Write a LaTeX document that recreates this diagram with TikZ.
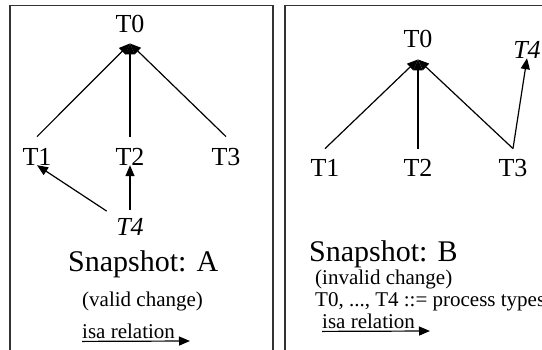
\documentclass[tikz,border=0pt]{standalone}
\usepackage{fontspec}
\setmainfont{Liberation Serif}
\usetikzlibrary{arrows.meta,calc,positioning}
\tikzset{
  ptype/.style={
    font=\fontsize{26}{30}\selectfont,
    inner sep=0pt, anchor=base
  },
  newtype/.style={ptype, font=\fontsize{26}{30}\selectfont\itshape},
  isa/.style={line width=1.2pt, -{Triangle[length=11pt,width=9pt]}},
  snaplabel/.style={font=\fontsize{30}{34}\selectfont, inner sep=0pt, anchor=base west},
  notelabel/.style={font=\fontsize{21}{25}\selectfont, inner sep=0pt, anchor=base west},
  keylabel/.style={notelabel, inner ysep=3pt},
  panel/.style={line width=1.6pt, draw=black!80}
}
\begin{document}
\begin{tikzpicture}[x=1pt, y=-1pt]
  \useasboundingbox (0,0) rectangle (542,349);

  % ==== SNAPSHOT A (left) ====
  \draw[panel] (10,352) -- (10,5.5) -- (273,5.5) -- (273,352);
  \node[ptype] (lT0) at (130,32)  {T0};
  \node[ptype] (lT1) at (37,165)  {T1};
  \node[ptype] (lT2) at (130,165) {T2};
  \node[ptype] (lT3) at (226,165) {T3};
  \node[newtype] (lT4) at (130,235) {T4};
  \draw[isa] ([yshift=11pt]lT1.north) -- ([yshift=-11pt]lT0.south);
  \draw[isa] ([yshift=11pt]lT2.north) -- ([yshift=-11pt]lT0.south);
  \draw[isa] ([yshift=11pt]lT3.north) -- ([yshift=-11pt]lT0.south);
  \draw[isa, shorten <=12pt] (lT4) -- (lT1.south);
  \draw[isa] ([yshift=8pt]lT4.north) -- (lT2.south);
  \node[snaplabel] (snapA) at (68,271) {Snapshot: A};
  \node[notelabel] (noteA) at (82,306) {(valid change)};
  \node[keylabel] (keyA) at (82,338) {isa relation};
  \coordinate (keyAend) at (190,341);
  \draw[isa] (keyA.south west) -- (keyAend);

  % ==== SNAPSHOT B (right) ====
  \draw[panel] (285,352) -- (285,5.5) -- (545,5.5);
  \node[ptype] (rT0) at (418,47)  {T0};
  \node[ptype] (rT1) at (325,176) {T1};
  \node[ptype] (rT2) at (418,176) {T2};
  \node[ptype] (rT3) at (513,176) {T3};
  \node[newtype] (rT4) at (527,58) {T4};
  \draw[isa] ([yshift=10pt]rT1.north) -- ([yshift=-12pt]rT0.south);
  \draw[isa] ([yshift=10pt]rT2.north) -- ([yshift=-12pt]rT0.south);
  \draw[isa] ([yshift=10pt]rT3.north) -- ([yshift=-12pt]rT0.south);
  \draw[isa] ([yshift=10pt]rT3.north) -- (rT4.south);
  \node[snaplabel] (snapB) at (309,261) {Snapshot: B};
  \node[notelabel] (noteB) at (315,284) {(invalid change)};
  \node[notelabel] (legend) at (315,306) {T0, ..., T4 ::= process types};
  \node[keylabel] (keyB) at (322,328) {isa relation};
  \coordinate (keyBend) at (430,331);
  \draw[isa] (keyB.south west) -- (keyBend);
\end{tikzpicture}
\end{document}
